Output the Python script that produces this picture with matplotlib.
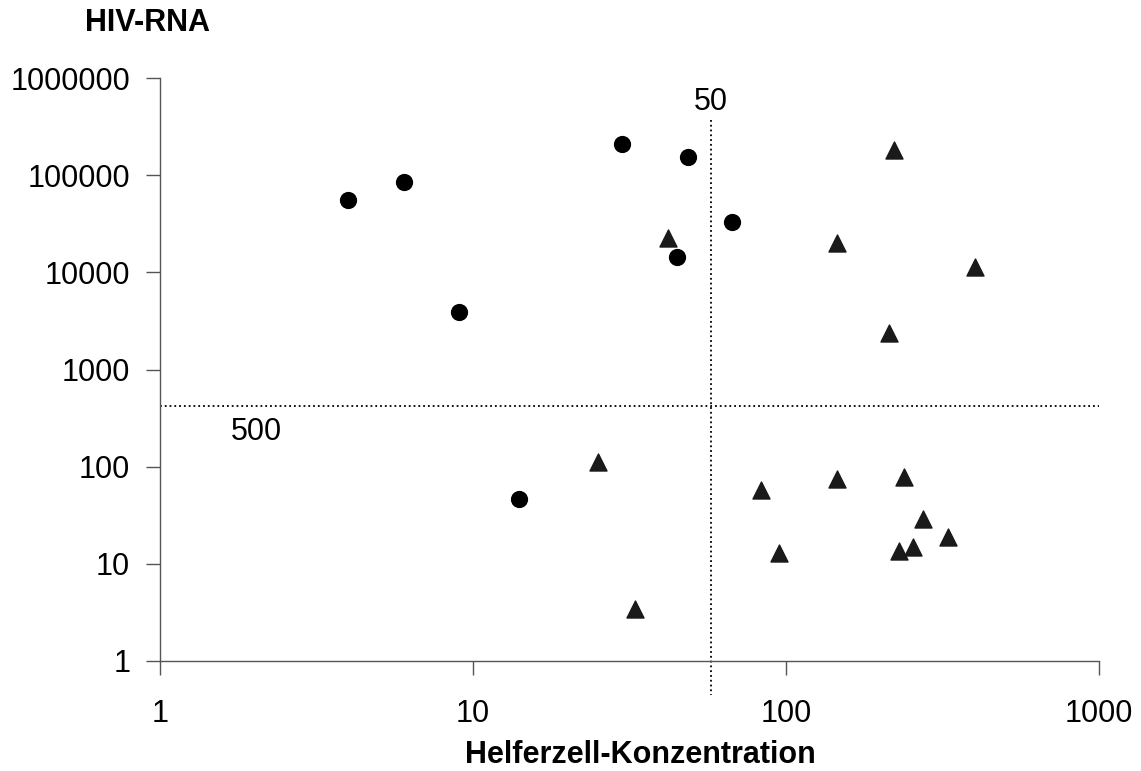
import numpy as np
import matplotlib.pyplot as plt

plt.rcParams['font.family'] = ['Liberation Sans', 'DejaVu Sans']

# Kreise
circle_x = [4, 6, 9, 14, 30, 48.7, 45, 67]
circle_y = [55000, 85000, 3900, 46, 208000, 153000, 14300, 32800]

# Dreiecke
tri_x = [25, 33, 42, 83, 95, 145, 145, 221, 213, 238, 229, 254, 273, 329, 401]
tri_y = [112, 3.4, 22500, 57, 12.9, 74, 20000, 181000, 2370, 78, 13.5, 14.9, 29, 18.9, 11300]

xticks = [1, 10, 100, 1000]
yticks = [1, 10, 100, 1000, 10000, 100000, 1000000]

vline_x = 57.7
hline_y = 420

fig = plt.figure(figsize=(11.41, 7.71), dpi=100)
ax = fig.add_axes([160 / 1141, 1 - 661 / 771, (1099 - 160) / 1141, (661 - 78) / 771])

ax.set_xscale('log')
ax.set_yscale('log')
ax.set_xlim(1, 1000)
ax.set_ylim(1, 1000000)

ax.scatter(circle_x, circle_y, marker='o', s=130, color='black', zorder=3)
ax.scatter(tri_x, tri_y, marker='^', s=150, color='#1a1a1a', zorder=3)

# Grenzlinien
ax.plot([vline_x, vline_x], [368000, 0.45], ls=':', color='black', lw=1.3, clip_on=False)
ax.plot([1, 1000], [hline_y, hline_y], ls=':', color='black', lw=1.3)
ax.text(vline_x, 560000, '50', fontsize=22, ha='center', va='center')
ax.text(2.03, 230, '500', fontsize=22, ha='center', va='center')

ax.set_xticks(xticks)
ax.set_xticklabels([str(t) for t in xticks])
ax.set_yticks(yticks)
ax.set_yticklabels([str(t) for t in yticks])
ax.minorticks_off()
ax.tick_params(axis='both', direction='out', length=10, width=1, color='#555555',
               labelsize=22)
ax.tick_params(axis='y', pad=11.5)
ax.tick_params(axis='x', pad=17)

for s in ['top', 'right']:
    ax.spines[s].set_visible(False)
for s in ['left', 'bottom']:
    ax.spines[s].set_color('#555555')
    ax.spines[s].set_linewidth(1)

fig.text(85 / 1141, 1 - 23 / 771, 'HIV-RNA', fontsize=22, fontweight='bold', ha='left', va='center')
fig.text(640 / 1141, 1 - 755 / 771, 'Helferzell-Konzentration', fontsize=22, fontweight='bold',
         ha='center', va='center')

fig.savefig('out.png', dpi=100)
